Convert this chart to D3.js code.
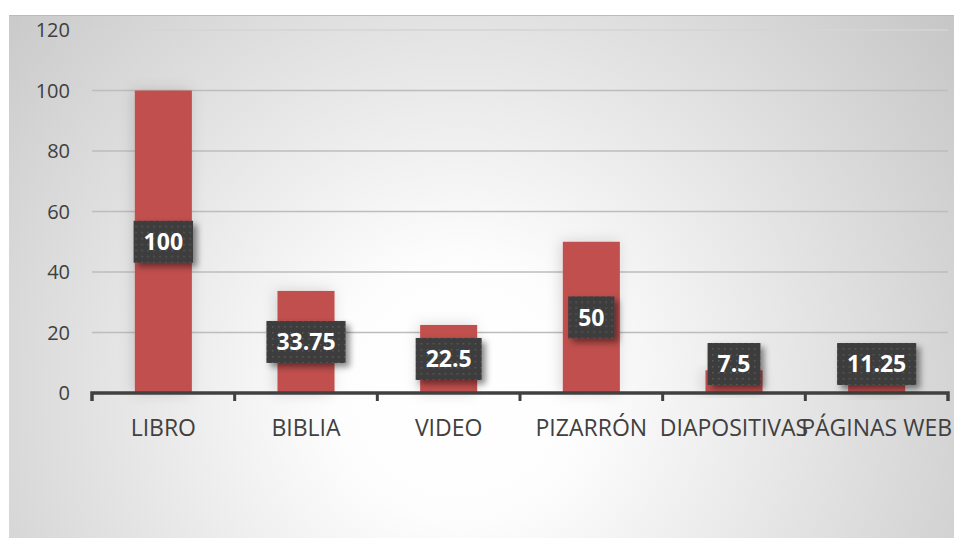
<!DOCTYPE html>
<html>
<head>
<meta charset="utf-8">
<script src="https://cdn.jsdelivr.net/npm/d3@7"></script>
<style>
  html, body { margin: 0; padding: 0; background: #fff; }
  svg { display: block; font-family: 'Open Sans', sans-serif; }
</style>
</head>
<body>
<script>
const categories = ['LIBRO', 'BIBLIA', 'VIDEO', 'PIZARRÓN', 'DIAPOSITIVAS', 'PÁGINAS WEB']
const values = [100, 33.75, 22.5, 50, 7.5, 11.25]
const yTicks = [0, 20, 40, 60, 80, 100, 120]

const width = 954
const height = 538
const margin = { top: 30, right: 6, bottom: 145, left: 92 }
const plotW = width - margin.left - margin.right
const plotH = height - margin.top - margin.bottom

const svg = d3.select('body').append('svg')
  .attr('width', width)
  .attr('height', height)

const defs = svg.append('defs')

const grad = defs.append('radialGradient')
  .attr('id', 'bg')
  .attr('gradientUnits', 'userSpaceOnUse')
  .attr('cx', 460).attr('cy', 390).attr('r', 640)
grad.append('stop').attr('offset', 0).attr('stop-color', '#ffffff')
grad.append('stop').attr('offset', 0.2).attr('stop-color', '#fdfdfd')
grad.append('stop').attr('offset', 1).attr('stop-color', '#c4c4c4')

const barShadow = defs.append('filter').attr('id', 'barShadow')
  .attr('x', '-50%').attr('y', '-20%').attr('width', '200%').attr('height', '140%')
barShadow.append('feDropShadow')
  .attr('dx', -2).attr('dy', 0).attr('stdDeviation', 7)
  .attr('flood-color', '#000').attr('flood-opacity', 0.15)

const boxShadow = defs.append('filter').attr('id', 'boxShadow')
  .attr('x', '-30%').attr('y', '-30%').attr('width', '160%').attr('height', '160%')
boxShadow.append('feDropShadow')
  .attr('dx', 4).attr('dy', 4).attr('stdDeviation', 3)
  .attr('flood-color', '#000').attr('flood-opacity', 0.45)

const dots = defs.append('pattern')
  .attr('id', 'dots')
  .attr('patternUnits', 'userSpaceOnUse')
  .attr('width', 6).attr('height', 6)
dots.append('rect').attr('width', 6).attr('height', 6).attr('fill', '#3d3d3d')
dots.append('rect').attr('x', 2).attr('y', 2).attr('width', 1.5).attr('height', 1.5).attr('fill', '#5a5a5a')

// chart area
svg.append('rect')
  .attr('x', 9).attr('y', 15)
  .attr('width', width - 9).attr('height', height - 15)
  .attr('fill', 'url(#bg)')
svg.append('line')
  .attr('x1', 9).attr('x2', width)
  .attr('y1', 15.5).attr('y2', 15.5)
  .attr('stroke', '#bcbcbc').attr('stroke-width', 1)

const g = svg.append('g')
  .attr('transform', `translate(${margin.left}, ${margin.top})`)

const yScale = d3.scaleLinear()
  .domain([0, 120])
  .range([plotH, 0])

const xScale = d3.scaleBand()
  .domain(categories)
  .range([0, plotW])
  .paddingInner(0.6)
  .paddingOuter(0.3)

const step = xScale.step()

// gridlines
g.selectAll('.grid')
  .data(yTicks.filter(d => d > 0))
  .enter().append('line')
  .attr('class', 'grid')
  .attr('x1', 0).attr('x2', plotW)
  .attr('y1', d => yScale(d)).attr('y2', d => yScale(d))
  .attr('stroke', d => d === 120 ? '#d4d4d4' : '#bdbdbd')
  .attr('stroke-width', 1.5)

// y labels
g.selectAll('.ylab')
  .data(yTicks)
  .enter().append('text')
  .attr('class', 'ylab')
  .attr('x', -22)
  .attr('y', d => yScale(d))
  .attr('dy', '0.35em')
  .attr('text-anchor', 'end')
  .attr('fill', '#404040')
  .style('font-size', '20px')
  .text(d => d)

// bars
g.selectAll('.bar')
  .data(values)
  .enter().append('rect')
  .attr('class', 'bar')
  .attr('x', (d, i) => xScale(categories[i]))
  .attr('width', xScale.bandwidth())
  .attr('y', d => yScale(d))
  .attr('height', d => plotH - yScale(d))
  .attr('fill', '#c0504d')
  .attr('filter', 'url(#barShadow)')

// x axis
const axisPath = d3.path()
axisPath.moveTo(0, plotH + 8)
axisPath.lineTo(0, plotH)
axisPath.lineTo(plotW, plotH)
axisPath.lineTo(plotW, plotH + 8)
g.append('path')
  .attr('d', axisPath.toString())
  .attr('fill', 'none')
  .attr('stroke', '#404040')
  .attr('stroke-width', 3.5)

g.selectAll('.tick')
  .data(categories.slice(1))
  .enter().append('line')
  .attr('class', 'tick')
  .attr('x1', d => xScale(d) - (step - xScale.bandwidth()) / 2)
  .attr('x2', d => xScale(d) - (step - xScale.bandwidth()) / 2)
  .attr('y1', plotH).attr('y2', plotH + 8)
  .attr('stroke', '#404040')
  .attr('stroke-width', 3)

g.selectAll('.xlab')
  .data(categories)
  .enter().append('text')
  .attr('class', 'xlab')
  .attr('x', d => xScale(d) + xScale.bandwidth() / 2)
  .attr('y', plotH + 43)
  .attr('text-anchor', 'middle')
  .attr('fill', '#404040')
  .style('font-size', '23px')
  .text(d => d)

// data labels
const boxH = 42
const labels = g.selectAll('.dlabel')
  .data(values)
  .enter().append('g')
  .attr('class', 'dlabel')
  .attr('transform', (d, i) => {
    const cx = xScale(categories[i]) + xScale.bandwidth() / 2
    const mid = (yScale(d) + plotH) / 2
    const cy = Math.min(mid, plotH - 8 - boxH / 2)
    return `translate(${cx}, ${cy})`
  })

const labelRect = labels.append('rect')
  .attr('fill', 'url(#dots)')
  .attr('filter', 'url(#boxShadow)')

const labelText = labels.append('text')
  .attr('text-anchor', 'middle')
  .attr('dy', '0.36em')
  .attr('fill', '#ffffff')
  .style('font-size', '23px')
  .style('font-weight', 'bold')
  .text(d => d)

labelText.each(function (d, i) {
  const w = this.getComputedTextLength() + 20
  d3.select(labelRect.nodes()[i])
    .attr('x', -w / 2)
    .attr('y', -boxH / 2)
    .attr('width', w)
    .attr('height', boxH)
})
</script>
</body>
</html>
